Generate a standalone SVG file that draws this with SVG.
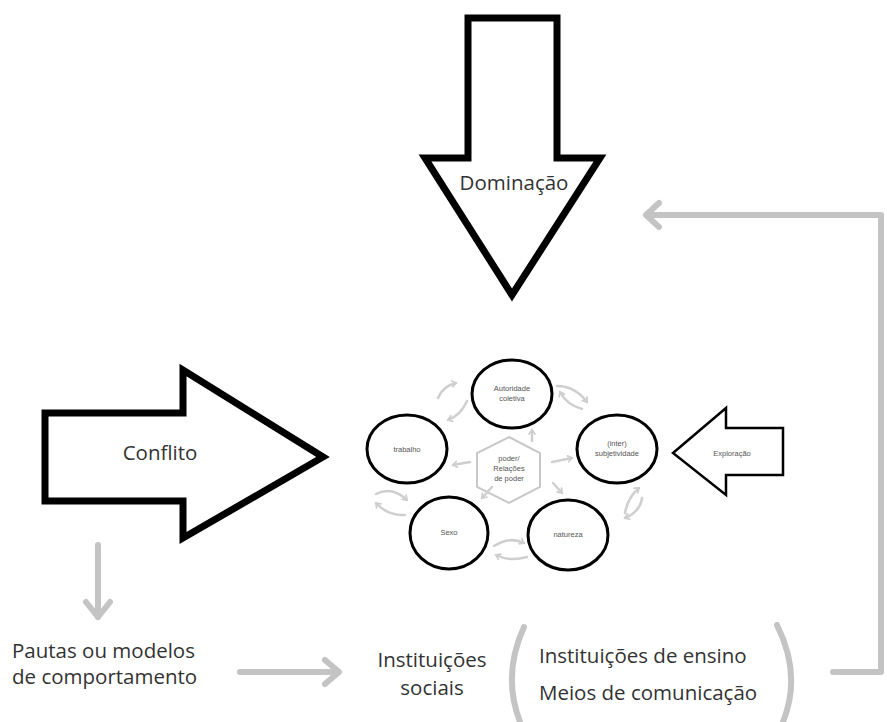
<svg xmlns="http://www.w3.org/2000/svg" width="887" height="722" viewBox="0 0 887 722">
<style>
.big{fill:#fff;stroke:#000;stroke-width:7;stroke-linejoin:miter}
.lbl{font-family:"Open Sans","Noto Sans",sans-serif;font-size:20.5px;fill:#333}
.small{font-family:"Liberation Sans",Arial,sans-serif;font-size:7.5px;fill:#555;text-anchor:middle}
.circ{fill:#fff;stroke:#000;stroke-width:3}
.garrow{fill:none;stroke:#c4c4c4;stroke-width:6;stroke-linecap:round;stroke-linejoin:round}
.sarrow{fill:none;stroke:#cfcfcf;stroke-width:2.5;stroke-linecap:round;marker-end:url(#chev)}
</style>
<defs>
<marker id="chev" markerWidth="8" markerHeight="8" refX="5" refY="4" orient="auto" markerUnits="userSpaceOnUse">
<path d="M1,1 L5,4 L1,7" fill="none" stroke="#cfcfcf" stroke-width="1.8" stroke-linecap="round"/>
</marker>
</defs>
<rect width="887" height="722" fill="#fff"/>

<g id="dominacao">
<polygon class="big" points="468,18 557,18 557,158 600,158 512,295 425,158 468,158"/>
<text class="lbl" x="514" y="190" text-anchor="middle">Dominação</text>
</g>

<g id="conflito">
<polygon class="big" points="45,413 183,413 183,370 323,457 183,538 183,501 45,501"/>
<text class="lbl" x="160" y="460" text-anchor="middle" font-size="21.5">Conflito</text>
</g>

<g id="exploracao">
<polygon fill="#fff" stroke="#000" stroke-width="2.5" points="673,453 726,408 726,428 783,428 783,475 726,475 726,495"/>
<text class="small" x="732" y="456">Exploração</text>
</g>

<g id="hex-poder">
<polygon points="509,437 540,453 540,487 509,503 477,487 477,453" fill="#fff" stroke="#c8c8c8" stroke-width="2"/>
<text class="small" x="509" y="461">poder/</text>
<text class="small" x="509" y="471">Relações</text>
<text class="small" x="509" y="481">de poder</text>
</g>

<g id="autoridade">
<ellipse class="circ" cx="512" cy="394" rx="40" ry="34"/>
<text class="small" x="512" y="391">Autoridade</text>
<text class="small" x="512" y="401">coletiva</text>
</g>
<g id="subjetividade">
<ellipse class="circ" cx="617" cy="449" rx="40" ry="34"/>
<text class="small" x="617" y="446">(inter)</text>
<text class="small" x="617" y="456">subjetividade</text>
</g>
<g id="trabalho">
<ellipse class="circ" cx="407" cy="449" rx="40" ry="34"/>
<text class="small" x="407" y="452">trabalho</text>
</g>
<g id="sexo">
<ellipse class="circ" cx="449" cy="533" rx="39" ry="36"/>
<text class="small" x="449" y="535">Sexo</text>
</g>
<g id="natureza">
<ellipse class="circ" cx="568" cy="535" rx="40" ry="35"/>
<text class="small" x="568" y="537">natureza</text>
</g>

<g id="pautas">
<text class="lbl" x="12" y="658">Pautas ou modelos</text>
<text class="lbl" x="12" y="684">de comportamento</text>
</g>
<g id="instituicoes-sociais">
<text class="lbl" x="432" y="667" text-anchor="middle">Instituições</text>
<text class="lbl" x="432" y="695" text-anchor="middle">sociais</text>
</g>
<g id="instituicoes-exemplos">
<text class="lbl" x="539" y="663">Instituições de ensino</text>
<text class="lbl" x="539" y="700">Meios de comunicação</text>
<path class="garrow" d="M524,627 Q502,675 520,722"/>
<path class="garrow" d="M777,625 Q802,675 783,722"/>
</g>

<g id="connectors">
<path class="garrow" d="M833,672 L881,672 L881,215 L648,215"/>
<path class="garrow" d="M659,203 L646,215 L659,227"/>
<path class="garrow" d="M98,545 L98,617"/>
<path class="garrow" d="M86,602 L98,617 L110,602"/>
<path class="garrow" d="M240,672 L338,672"/>
<path class="garrow" d="M325,660 L339,672 L325,684"/>

<path class="sarrow" d="M438,398 Q443,386 456,383"/>
<path class="sarrow" d="M467,401 Q461,415 448,420"/>
<path class="sarrow" d="M557,386 Q575,386 587,402"/>
<path class="sarrow" d="M582,409 Q567,405 560,392"/>
<path class="sarrow" d="M625,513 Q628,497 639,488"/>
<path class="sarrow" d="M642,498 Q640,512 625,518"/>
<path class="sarrow" d="M494,546 Q510,536 524,543"/>
<path class="sarrow" d="M527,557 Q510,562 496,555"/>
<path class="sarrow" d="M376,494 Q392,486 407,500"/>
<path class="sarrow" d="M405,515 Q388,516 376,503"/>

<path class="sarrow" d="M532,441 L532,430"/>
<path class="sarrow" d="M470,462 L453,465"/>
<path class="sarrow" d="M552,462 L572,458"/>
<path class="sarrow" d="M553,483 L562,493"/>
<path class="sarrow" d="M492,487 L482,498"/>
</g>
</svg>
